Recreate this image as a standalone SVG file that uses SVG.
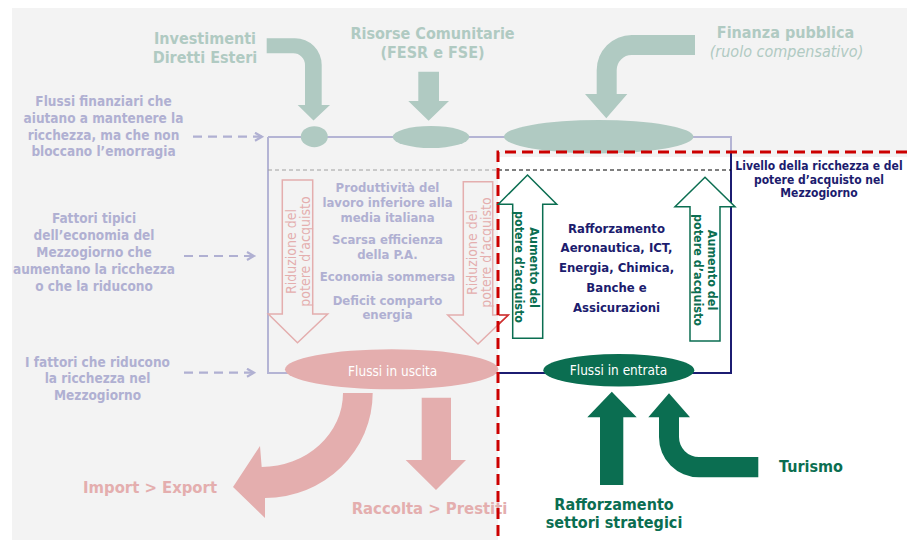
<svg xmlns="http://www.w3.org/2000/svg" width="907" height="540" viewBox="0 0 907 540">
<defs>
<style>
.t{font-family:'DejaVu Sans',sans-serif;font-stretch:condensed;text-anchor:middle}
.b{font-weight:bold}
.lav{fill:#b0b0d2}
.gg{fill:#b0cac2}
.pk{fill:#e4aeae}
.dg{fill:#0b6e51}
.nv{fill:#1c1c6e}
.wh{fill:#ffffff}
.lavline{stroke:#b4b4d4;stroke-width:2;fill:none}
.navline{stroke:#1c1c72;stroke-width:2;fill:none}
.dash{stroke:#b0b0d2;stroke-width:2.2;stroke-dasharray:9,6;fill:none}
</style>
<marker id="chev" markerUnits="userSpaceOnUse" markerWidth="12" markerHeight="12" refX="8" refY="5" orient="auto" viewBox="0 0 12 12">
<path d="M1,1 L8,5 L1,9" fill="none" stroke="#b0b0d2" stroke-width="2.2"/>
</marker>
<clipPath id="rightside"><rect x="499" y="0" width="408" height="540"/></clipPath>
</defs>

<!-- background -->
<path d="M12,8 H907 V157 H498 V540 H12 Z" fill="#f3f3f3"/>

<!-- connectors / frame lines -->
<g id="connectors">
<path class="lavline" d="M268,137 H731 V152"/>
<path class="lavline" d="M268,137 V373 H498"/>
<path class="navline" d="M731,152 V373 H498"/>
<line x1="268" y1="170" x2="498" y2="170" stroke="#a0a0a0" stroke-width="1" stroke-dasharray="4,3"/>
<line x1="498" y1="170" x2="731" y2="170" stroke="#000" stroke-width="1" stroke-dasharray="4,3"/>
<line class="dash" x1="193" y1="136.7" x2="262" y2="136.7" marker-end="url(#chev)"/>
<line class="dash" x1="184" y1="256" x2="254" y2="256" marker-end="url(#chev)"/>
<line class="dash" x1="184" y1="372.7" x2="254" y2="372.7" marker-end="url(#chev)"/>
</g>

<!-- top inflows -->
<g id="ide">
<path class="gg" d="M266.7,38.3 H295 A26.7,26.7 0 0 1 321.7,65 V105 H330 L313.5,120.5 L297.7,105 H305 V65 A11.7,11.7 0 0 0 293.3,53.3 H266.7 Z"/>
<ellipse class="gg" cx="314.3" cy="136.7" rx="13.5" ry="10.5"/>
<text class="t b gg" font-size="16" x="205" y="43.5">Investimenti</text>
<text class="t b gg" font-size="16" x="205" y="62.5">Diretti Esteri</text>
</g>
<g id="risorse">
<path class="gg" d="M418.3,71.7 H439 V101 H449 L428.6,120.7 L408.3,101 H418.3 Z"/>
<ellipse class="gg" cx="431" cy="137" rx="38.3" ry="11"/>
<text class="t b gg" font-size="16" x="432.5" y="39">Risorse Comunitarie</text>
<text class="t b gg" font-size="16" x="432.5" y="58">(FESR e FSE)</text>
</g>
<g id="finanza">
<path class="gg" d="M695,35 H631.7 A35,35 0 0 0 596.7,70 V94 H585 L606.3,118.3 L627.3,94 H616.7 V70 A15,15 0 0 1 631.7,55 H695 Z"/>
<ellipse class="gg" cx="598.7" cy="136.7" rx="94.7" ry="16.7"/>
<text class="t b gg" font-size="16" x="785.5" y="38">Finanza pubblica</text>
<text class="t gg" font-size="16" font-style="italic" x="786.5" y="57">(ruolo compensativo)</text>
</g>

<!-- left labels -->
<g id="label-flussi-finanziari">
<text class="t b lav" font-size="13.5" x="103.5" y="106">Flussi finanziari che</text>
<text class="t b lav" font-size="13.5" x="103.5" y="123">aiutano a mantenere la</text>
<text class="t b lav" font-size="13.5" x="103.5" y="139.5">ricchezza, ma che non</text>
<text class="t b lav" font-size="13.5" x="103.5" y="156">bloccano l’emorragia</text>
</g>
<g id="label-fattori-tipici">
<text class="t b lav" font-size="13.5" x="94" y="223">Fattori tipici</text>
<text class="t b lav" font-size="13.5" x="94" y="240">dell’economia del</text>
<text class="t b lav" font-size="13.5" x="94" y="257">Mezzogiorno che</text>
<text class="t b lav" font-size="13.5" x="94" y="274">aumentano la ricchezza</text>
<text class="t b lav" font-size="13.5" x="94" y="291">o che la riducono</text>
</g>
<g id="label-fattori-riducono">
<text class="t b lav" font-size="13.5" x="97.5" y="366.5">I fattori che riducono</text>
<text class="t b lav" font-size="13.5" x="97.5" y="383">la ricchezza nel</text>
<text class="t b lav" font-size="13.5" x="97.5" y="399.5">Mezzogiorno</text>
</g>

<!-- negative factors -->
<g id="riduzione-left">
<polygon points="282.3,180 312.7,180 312.7,314 327.7,314 297.5,342.7 268.3,314 282.3,314" fill="none" stroke="#e4aeae" stroke-width="1.5"/>
<text class="t pk" font-size="14" transform="translate(296,251.5) rotate(-90)">Riduzione del</text>
<text class="t pk" font-size="14" transform="translate(309.5,251.5) rotate(-90)">potere d’acquisto</text>
</g>
<g id="fattori-negativi">
<text class="t b lav" font-size="13" x="387.5" y="192">Produttività del</text>
<text class="t b lav" font-size="13" x="387.5" y="207">lavoro inferiore alla</text>
<text class="t b lav" font-size="13" x="387.5" y="221.5">media italiana</text>
<text class="t b lav" font-size="13" x="387.5" y="244">Scarsa efficienza</text>
<text class="t b lav" font-size="13" x="387.5" y="259">della P.A.</text>
<text class="t b lav" font-size="13" x="387.5" y="280.5">Economia sommersa</text>
<text class="t b lav" font-size="13" x="387.5" y="304.5">Deficit comparto</text>
<text class="t b lav" font-size="13" x="387.5" y="319">energia</text>
</g>
<g id="riduzione-right">
<polygon points="463.3,181.7 492.7,181.7 492.7,315 508.3,315 478,344 447.7,315 463.3,315" fill="none" stroke="#e4aeae" stroke-width="1.5"/>
<polygon points="463.3,181.7 492.7,181.7 492.7,315 508.3,315 478,344 447.7,315 463.3,315" fill="none" stroke="#d03030" stroke-width="1.5" clip-path="url(#rightside)"/>
<text class="t pk" font-size="14" transform="translate(477,252.5) rotate(-90)">Riduzione del</text>
<text class="t pk" font-size="14" transform="translate(490.5,252.5) rotate(-90)">potere d’acquisto</text>
</g>

<!-- outflows -->
<g id="flussi-uscita">
<ellipse cx="391.7" cy="369.3" rx="106.7" ry="20" fill="#e4aeae"/>
<text class="t wh" font-size="13.5" x="392.7" y="376">Flussi in uscita</text>
</g>
<g id="import-export">
<path class="pk" d="M343,393 H372.7 A107.7,105 0 0 1 265,498 L265,518 L233,487 L260,446 L261.7,467 A81.3,74 0 0 0 343,393 Z"/>
<text class="t b pk" font-size="16.5" x="150" y="493">Import &gt; Export</text>
</g>
<g id="raccolta-prestiti">
<path class="pk" d="M421.7,397.7 H451 V460 H466 L436,490 L405.7,460 H421.7 Z"/>
<text class="t b pk" font-size="16.5" x="429.5" y="514">Raccolta &gt; Prestiti</text>
</g>

<!-- red dashed boundary -->
<path d="M907,152 H498 V540" fill="none" stroke="#cc0000" stroke-width="3" stroke-dasharray="11,6"/>

<!-- positive side -->
<g id="aumento-left">
<polygon points="527.5,175 556.7,204.3 542.7,204.3 542.7,338.3 512.7,338.3 512.7,204.3 498.3,204.3" fill="#ffffff" stroke="#0b6e51" stroke-width="1.5"/>
<text class="t b dg" font-size="12.5" transform="translate(529.5,267.5) rotate(90)">Aumento del</text>
<text class="t b dg" font-size="12.5" transform="translate(515,267) rotate(90)">potere d’acquisto</text>
</g>
<g id="rafforzamento-box">
<text class="t b nv" font-size="13" x="616.5" y="232.5">Rafforzamento</text>
<text class="t b nv" font-size="13" x="616.5" y="252.3">Aeronautica, ICT,</text>
<text class="t b nv" font-size="13" x="616.5" y="272">Energia, Chimica,</text>
<text class="t b nv" font-size="13" x="616.5" y="291.7">Banche e</text>
<text class="t b nv" font-size="13" x="616.5" y="311.5">Assicurazioni</text>
</g>
<g id="aumento-right">
<polygon points="705,177.3 735,206.7 720,206.7 720,341 690,341 690,206.7 675,206.7" fill="#ffffff" stroke="#0b6e51" stroke-width="1.5"/>
<text class="t b dg" font-size="12.5" transform="translate(708,270) rotate(90)">Aumento del</text>
<text class="t b dg" font-size="12.5" transform="translate(693.5,270) rotate(90)">potere d’acquisto</text>
</g>
<g id="livello">
<text class="t b nv" font-size="12" x="819" y="170">Livello della ricchezza e del</text>
<text class="t b nv" font-size="12" x="819" y="183.5">potere d’acquisto nel</text>
<text class="t b nv" font-size="12" x="819" y="197">Mezzogiorno</text>
</g>

<!-- inflows -->
<g id="flussi-entrata">
<ellipse cx="618.8" cy="370.3" rx="75.5" ry="16.3" fill="#0b6e51"/>
<text class="t wh" font-size="13.5" x="618.5" y="374.5">Flussi in entrata</text>
</g>
<g id="rafforzamento-settori">
<path class="dg" d="M600,485 V417.3 H587.3 L611.8,391.7 L636.7,417.3 H623.3 V485 Z"/>
<text class="t b dg" font-size="16" x="614" y="510">Rafforzamento</text>
<text class="t b dg" font-size="16" x="614" y="527.5">settori strategici</text>
</g>
<g id="turismo">
<path class="dg" d="M659,417.3 H648.3 L669,393.3 L690,417.3 H679 V437 A20,20 0 0 0 699,457 H758.3 V477.3 H699 A40,40 0 0 1 659,437 Z"/>
<text class="t b dg" font-size="16" x="811" y="472">Turismo</text>
</g>
</svg>
